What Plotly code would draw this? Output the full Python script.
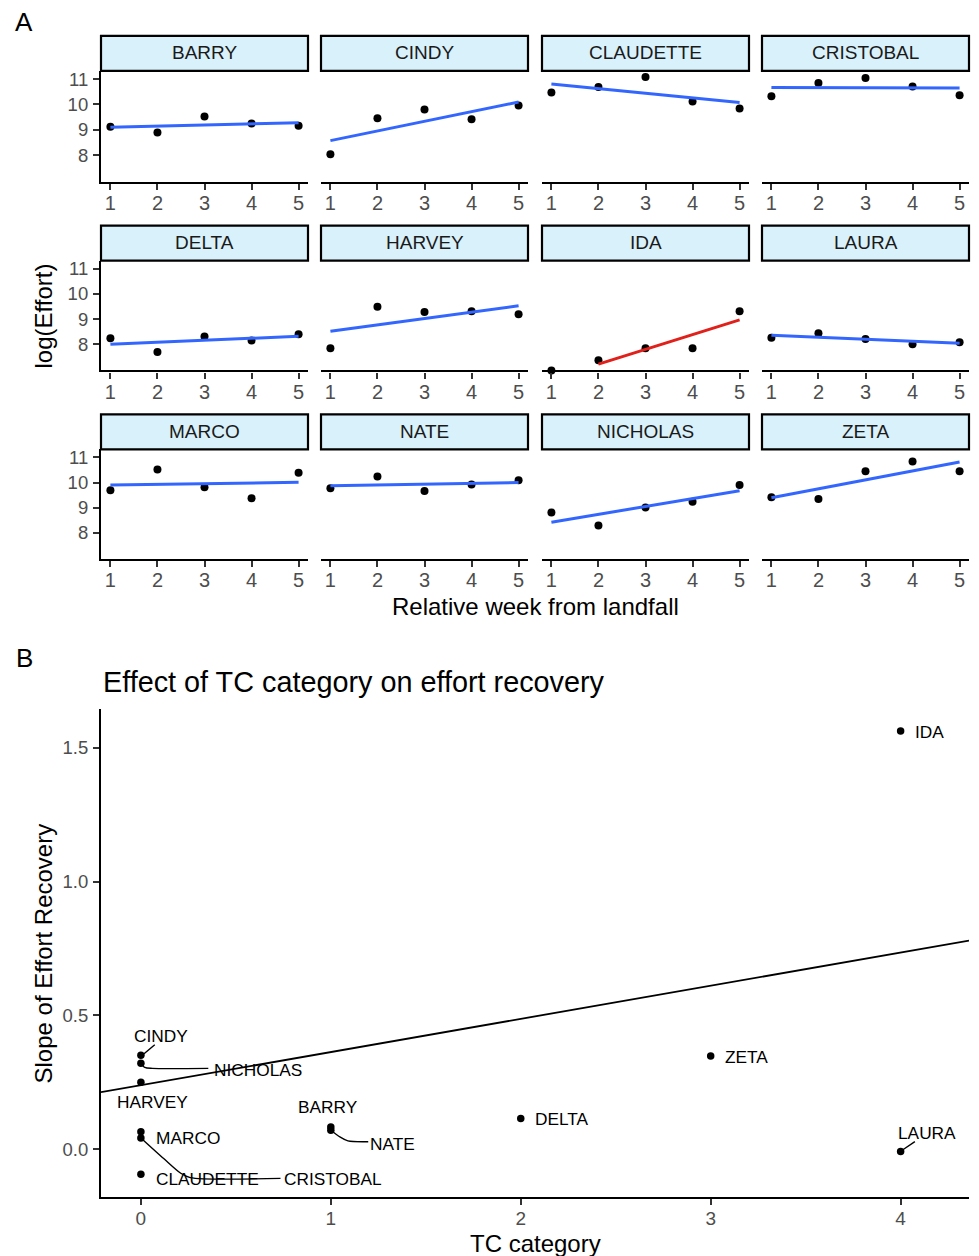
import numpy as np
import plotly.graph_objects as go

# ---------------- data ----------------
storms = ["BARRY", "CINDY", "CLAUDETTE", "CRISTOBAL", "DELTA", "HARVEY",
          "IDA", "LAURA", "MARCO", "NATE", "NICHOLAS", "ZETA"]
weeks = [1, 2, 3, 4, 5]
NEG_INF = float("-inf")   # log(0): drawn at the panel edge, dropped from the fit

barry_effort = [9.12, 8.90, 9.53, 9.25, 9.16]
cindy_effort = [8.04, 9.46, 9.80, 9.42, 9.96]
claudette_effort = [10.47, 10.69, 11.08, 10.12, 9.84]
cristobal_effort = [10.32, 10.84, 11.04, 10.71, 10.36]
delta_effort = [8.24, 7.69, 8.31, 8.15, 8.40]
harvey_effort = [7.84, 9.49, 9.28, 9.31, 9.19]
ida_effort = [NEG_INF, 7.36, 7.84, 7.84, 9.31]
laura_effort = [8.26, 8.44, 8.21, 8.00, 8.08]
marco_effort = [9.69, 10.52, 9.81, 9.38, 10.39]
nate_effort = [9.77, 10.24, 9.66, 9.92, 10.09]
nicholas_effort = [8.81, 8.29, 9.01, 9.24, 9.90]
zeta_effort = [9.42, 9.35, 10.45, 10.84, 10.45]

effort_by_storm = dict(zip(storms, [
    barry_effort, cindy_effort, claudette_effort, cristobal_effort,
    delta_effort, harvey_effort, ida_effort, laura_effort,
    marco_effort, nate_effort, nicholas_effort, zeta_effort]))

# panel B
tc_category = [1, 0, 0, 0, 2, 0, 4, 4, 0, 1, 0, 3]
recovery_slope = [0.083, 0.351, -0.094, 0.042, 0.115, 0.250,
                  1.563, -0.009, 0.065, 0.071, 0.321, 0.348]
trend_intercept = 0.239
trend_slope = 0.124

facet_yticks = [8, 9, 10, 11]
b_xticks = [0, 1, 2, 3, 4]
b_yticks = [0.0, 0.5, 1.0, 1.5]
b_yticklabels = ["0.0", "0.5", "1.0", "1.5"]

# ---------------- layout helpers ----------------
W, H = 979, 1256
FONT = "Liberation Sans"
def px(x):
    return x / W
def py(y):
    return 1 - y / H

col_px = [(101, 308), (321, 528), (542, 749), (762, 969)]
row_panel_px = [(69, 180), (259, 369), (448, 558)]
row_strip_px = [(34, 69), (224, 259), (413, 448)]
facet_xrange = [0.8, 5.2]
facet_yrange = [6.96, 11.32]

highlight_color = {"IDA": "#E0201B"}
fit_color = "#3366FF"

AX_LINE = 2.2
XTICK_FONT = dict(family=FONT, size=20, color="#4D4D4D")
YTICK_FONT = dict(family=FONT, size=18.5, color="#4D4D4D")

fig = go.Figure()
layout = dict(
    width=W, height=H, margin=dict(l=0, r=0, t=0, b=0),
    paper_bgcolor="white", plot_bgcolor="white", showlegend=False,
    font=dict(family=FONT), shapes=[], annotations=[],
)

for i, s in enumerate(storms):
    r, c = divmod(i, 4)
    n = i + 1
    xa, ya = f"x{n}", f"y{n}"
    vals = np.array(effort_by_storm[s], dtype=float)
    wk = np.array(weeks, dtype=float)
    finite = np.isfinite(vals)
    # ggplot draws -Inf at the panel edge
    shown = np.where(finite, vals, facet_yrange[0])
    # linear fit (geom_smooth, method = lm) on finite values
    k, b0 = np.polyfit(wk[finite], vals[finite], 1)
    fx = np.array([wk[finite].min(), wk[finite].max()])
    fy = b0 + k * fx
    fig.add_trace(go.Scatter(x=wk, y=shown, mode="markers", xaxis=xa, yaxis=ya,
                             marker=dict(color="black", size=8),
                             cliponaxis=False, hoverinfo="skip"))
    fig.add_trace(go.Scatter(x=fx, y=fy, mode="lines", xaxis=xa, yaxis=ya,
                             line=dict(color=highlight_color.get(s, fit_color), width=3),
                             hoverinfo="skip"))
    x0, x1 = col_px[c]
    pt, pb = row_panel_px[r]
    layout[f"xaxis{n}"] = dict(
        domain=[px(x0), px(x1)], range=facet_xrange, anchor=ya,
        showline=True, linecolor="black", linewidth=AX_LINE, showgrid=False,
        zeroline=False, ticks="outside", ticklen=6, tickwidth=AX_LINE,
        tickcolor="#333333", tickvals=weeks, tickfont=XTICK_FONT,
        ticklabelstandoff=-4, fixedrange=True)
    layout[f"yaxis{n}"] = dict(
        domain=[py(pb), py(pt)], range=facet_yrange, anchor=xa,
        showline=(c == 0), linecolor="black", linewidth=AX_LINE, showgrid=False,
        zeroline=False, ticks="outside" if c == 0 else "", ticklen=6,
        tickwidth=AX_LINE, tickcolor="#333333", tickvals=facet_yticks,
        showticklabels=(c == 0), tickfont=YTICK_FONT, ticklabelstandoff=1,
        fixedrange=True)
    st, sb = row_strip_px[r]
    layout["shapes"].append(dict(
        type="rect", xref="paper", yref="paper",
        x0=px(x0), x1=px(x1), y0=py(sb), y1=py(st),
        line=dict(color="black", width=AX_LINE), fillcolor="#D9F1FB", layer="above"))
    layout["annotations"].append(dict(
        x=px((x0 + x1) / 2), y=py((st + sb) / 2 - 0.5), xref="paper", yref="paper",
        text=s, showarrow=False, xanchor="center", yanchor="middle",
        font=dict(family=FONT, size=19, color="#1A1A1A")))

# ---------------- panel B ----------------
nB = len(storms) + 1
xb, yb = f"x{nB}", f"y{nB}"
b_xrange = [-0.21, 4.36]
b_yrange = [-0.179, 1.6455]

tx = np.array(b_xrange)
fig.add_trace(go.Scatter(x=tx, y=trend_intercept + trend_slope * tx, mode="lines",
                         xaxis=xb, yaxis=yb, line=dict(color="black", width=1.8),
                         hoverinfo="skip"))

# label placement (repelled positions) and connector paths, data coordinates
label_pos = {
    "IDA": (4.152, 1.560), "CINDY": (0.108, 0.422), "NICHOLAS": (0.615, 0.297),
    "HARVEY": (0.059, 0.176), "MARCO": (0.249, 0.042), "CLAUDETTE": (0.350, -0.113),
    "CRISTOBAL": (1.011, -0.113), "BARRY": (0.984, 0.158), "NATE": (1.327, 0.021),
    "DELTA": (2.216, 0.111), "ZETA": (3.19, 0.344), "LAURA": (4.141, 0.061),
}
connector_path = {
    "CINDY": [(0.015, 0.356), (0.073, 0.390)],
    "NICHOLAS": [(0.0, 0.321), (0.02, 0.306), (0.06, 0.302), (0.355, 0.302)],
    "CRISTOBAL": [(0.0, 0.042), (0.12, -0.035), (0.21, -0.090), (0.26, -0.106), (0.735, -0.109)],
    "NATE": [(1.0, 0.071), (1.05, 0.045), (1.09, 0.031), (1.197, 0.028)],
    "LAURA": [(4.006, -0.005), (4.075, 0.028)],
}
for s, path in connector_path.items():
    xs, ys = zip(*path)
    fig.add_trace(go.Scatter(x=xs, y=ys, mode="lines", xaxis=xb, yaxis=yb,
                             line=dict(color="black", width=1.4, shape="spline", smoothing=0.8),
                             hoverinfo="skip"))

fig.add_trace(go.Scatter(x=tc_category, y=recovery_slope, mode="markers",
                         xaxis=xb, yaxis=yb, marker=dict(color="black", size=7.5),
                         hoverinfo="skip"))

for s in storms:
    lx, ly = label_pos[s]
    layout["annotations"].append(dict(
        x=lx, y=ly, xref=xb, yref=yb, text=s, showarrow=False,
        xanchor="center", yanchor="middle",
        font=dict(family=FONT, size=17.3, color="black")))

layout[f"xaxis{nB}"] = dict(
    domain=[px(101), px(969)], range=b_xrange, anchor=yb,
    showline=True, linecolor="black", linewidth=AX_LINE, showgrid=False,
    zeroline=False, ticks="outside", ticklen=6, tickwidth=AX_LINE,
    tickcolor="#333333", tickvals=b_xticks, tickfont=dict(family=FONT, size=19, color="#4D4D4D"),
    ticklabelstandoff=-3, fixedrange=True)
layout[f"yaxis{nB}"] = dict(
    domain=[py(1197), py(708)], range=b_yrange, anchor=xb,
    showline=True, linecolor="black", linewidth=AX_LINE, showgrid=False,
    zeroline=False, ticks="outside", ticklen=6, tickwidth=AX_LINE,
    tickcolor="#333333", tickvals=b_yticks, ticktext=b_yticklabels,
    tickfont=YTICK_FONT, ticklabelstandoff=1, fixedrange=True)

# ---------------- titles & tags ----------------
def text(x, y, t, size, angle=0, xanchor="center", color="black"):
    layout["annotations"].append(dict(
        x=px(x), y=py(y), xref="paper", yref="paper", text=t, showarrow=False,
        xanchor=xanchor, yanchor="middle", textangle=angle,
        font=dict(family=FONT, size=size, color=color)))

text(24, 20, "A", 26)
text(24, 657, "B", 26)
text(43, 315, "log(Effort)", 24, angle=-90)
text(535, 605, "Relative week from landfall", 24)
text(101, 681, "Effect of TC category on effort recovery", 28.8, xanchor="left")
text(43, 953, "Slope of Effort Recovery", 24, angle=-90)
text(535, 1243, "TC category", 24)

fig.update_layout(**layout)
fig.write_html("out.html")
